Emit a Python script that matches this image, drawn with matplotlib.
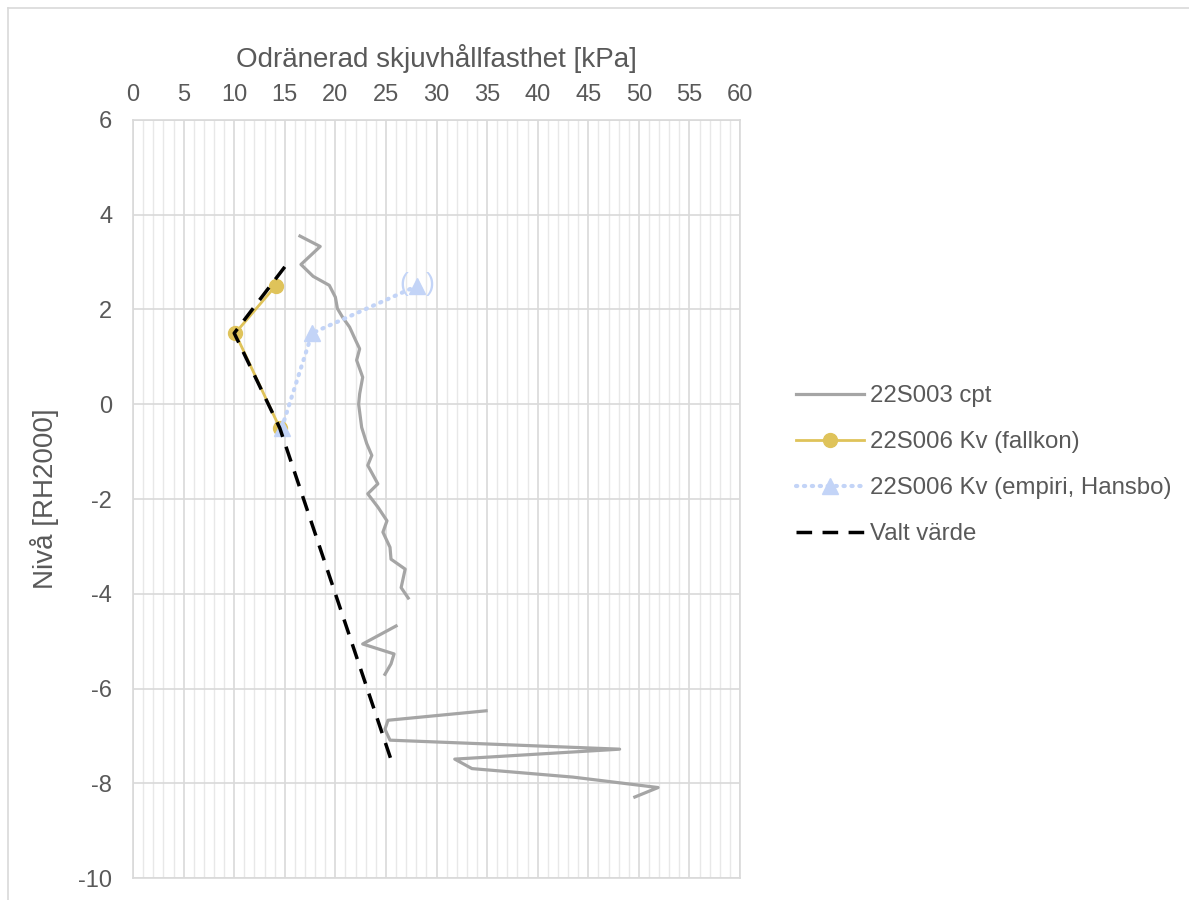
import numpy as np
import matplotlib.pyplot as plt
from matplotlib.lines import Line2D

plt.rcParams['font.family'] = ['Liberation Sans', 'DejaVu Sans']
plt.rcParams['axes.unicode_minus'] = False

# CPT-sondering 22S003 (NaN = avbrott i kurvan)
cpt_su = [16.5, 18.5, 16.6, 17.8, 19.4, 20.0, 20.2, 20.7, 21.4, 22.0, 22.4, 22.1,
          22.7, 22.4, 22.3, 22.6, 23.1, 23.6, 23.2, 24.2, 23.2, 24.2, 25.1, 24.7,
          25.4, 25.5, 26.9, 26.5, 27.2, np.nan,
          26.0, 22.7, 25.8, 25.5, 24.9, np.nan,
          34.9, 25.2, 24.9, 25.4, 48.1, 31.8, 33.5, 43.5, 51.9, 49.6]
cpt_z = [3.55, 3.33, 2.95, 2.70, 2.51, 2.26, 2.02, 1.84, 1.63, 1.35, 1.17, 0.93,
         0.57, 0.22, 0.00, -0.49, -0.83, -1.08, -1.29, -1.68, -1.89, -2.17, -2.46, -2.70,
         -3.02, -3.27, -3.48, -3.87, -4.09, np.nan,
         -4.68, -5.06, -5.27, -5.48, -5.70, np.nan,
         -6.47, -6.67, -6.86, -7.09, -7.28, -7.49, -7.69, -7.87, -8.09, -8.29]

# Vingprov, fallkon
fk_su = [14.1, 10.1, 14.5]
fk_z = [2.5, 1.5, -0.5]

# Vingprov, empiri (Hansbo)
emp_su = [14.7, 17.7, 28.1]
emp_z = [-0.5, 1.5, 2.5]

# Valt värde
valt_su = [15.0, 10.0, 14.5, 25.5]
valt_z = [2.9, 1.5, -0.5, -7.5]

text_col = '#595959'
grid_col = '#d9d9d9'
c_cpt = '#a5a5a5'
c_fk = '#dfc35a'
c_emp = '#c3d4f7'

fig = plt.figure(figsize=(11.89, 9), dpi=100)
ax = fig.add_axes([0.1119, 0.0244, 0.5105, 0.8423])

# ram runt diagramytan
fig.add_artist(Line2D([0.007, 0.007], [0, 0.991], transform=fig.transFigure,
                      color=grid_col, lw=1.2))
fig.add_artist(Line2D([0.007, 1.0], [0.991, 0.991], transform=fig.transFigure,
                      color=grid_col, lw=1.2))

ax.set_xlim(0, 60)
ax.set_ylim(-10, 6)
ax.set_xticks(np.arange(0, 61, 5))
ax.set_xticks(np.arange(0, 61, 1), minor=True)
ax.set_yticks(np.arange(-10, 7, 2))
ax.xaxis.tick_top()
ax.xaxis.set_label_position('top')

ax.grid(True, which='major', axis='both', color=grid_col, lw=1.2, zorder=0)
ax.grid(True, which='minor', axis='x', color='#e8e8e8', lw=1.0, zorder=0)
ax.set_axisbelow(True)
ax.tick_params(which='both', length=0, labelsize=17, colors=text_col)
ax.tick_params(axis='x', pad=10)
ax.tick_params(axis='y', pad=15)
for s in ax.spines.values():
    s.set_color(grid_col)
    s.set_linewidth(1.2)

ax.plot(cpt_su, cpt_z, color=c_cpt, lw=2.3, label='22S003 cpt', zorder=3)
ax.plot(fk_su, fk_z, color=c_fk, lw=2.0, marker='o', ms=10,
        label='22S006 Kv (fallkon)', zorder=4)
ax.plot(emp_su, emp_z, color=c_emp, lw=3.0, ls=(0, (0.3, 1.6)), marker='^', ms=12,
        dash_capstyle='round', label='22S006 Kv (empiri, Hansbo)', zorder=5)
ax.plot(valt_su, valt_z, color='black', lw=2.5, ls=(0, (4.5, 3)),
        label='Valt värde', zorder=6)

# parentes runt osäkert värde
for ch, dx in (('(', -10), (')', 9)):
    ax.annotate(ch, (emp_su[-1], emp_z[-1]), xytext=(dx, 1), textcoords='offset points',
                color=c_emp, fontsize=19, ha='center', va='center', zorder=5)

ax.set_xlabel('Odränerad skjuvhållfasthet [kPa]', fontsize=20, color=text_col,
              labelpad=12)
ax.set_ylabel('Nivå [RH2000]', fontsize=20, color=text_col, labelpad=14)

leg = ax.legend(loc='upper left', bbox_to_anchor=(1.057, 0.679), frameon=False,
                fontsize=17.3, labelcolor=text_col, handlelength=2.8,
                labelspacing=1.0, handletextpad=0.25)

fig.savefig('out.png', dpi=100)
